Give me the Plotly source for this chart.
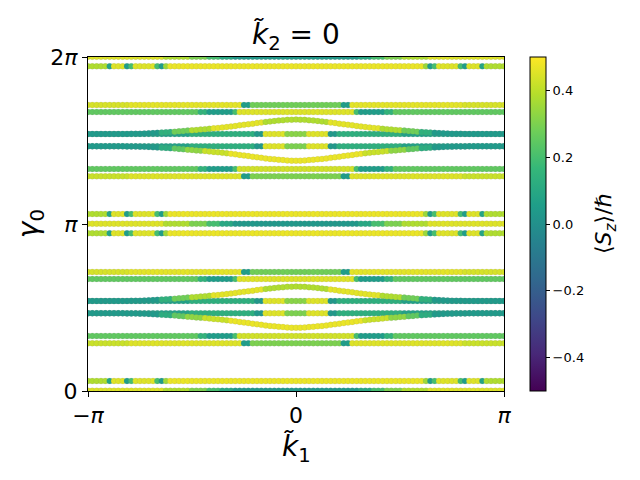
import numpy as np
import plotly.graph_objects as go

PI = np.pi

# k-grid on [0, pi] (the picture is mirror-symmetric in k)
N_K = 49
K_POS = [i * PI / (N_K - 1) for i in range(N_K)]


def runs(pairs):
    out = []
    for n, v in pairs:
        out += [v] * n
    return out


# flat band levels inside one period [0, pi) of gamma_0 (period repeats at +pi)
LEVEL_A = 0.005
LEVEL_B = 0.188
LEVEL_C = 0.897
LEVEL_D = 1.035
LEVEL_E = 1.462
LEVEL_H = 1.693
LEVEL_I = 2.107
LEVEL_J = 2.239
LEVEL_K = 2.967

# curved bands (k >= 0)
Y_F = [1.191, 1.192, 1.196, 1.202, 1.209, 1.217, 1.225, 1.234, 1.245, 1.256,
       1.267, 1.278, 1.289, 1.299, 1.310, 1.321, 1.331, 1.340, 1.348, 1.356,
       1.364, 1.371, 1.378, 1.385, 1.392, 1.398, 1.405, 1.412, 1.419, 1.424,
       1.429, 1.435, 1.440, 1.444, 1.448, 1.452, 1.455, 1.457, 1.459, 1.460,
       1.461, 1.461, 1.462, 1.462, 1.462, 1.462, 1.462, 1.462, 1.462]
Y_G = [1.964, 1.963, 1.959, 1.953, 1.946, 1.938, 1.930, 1.921, 1.910, 1.899,
       1.888, 1.877, 1.866, 1.856, 1.845, 1.834, 1.824, 1.815, 1.807, 1.799,
       1.791, 1.784, 1.777, 1.770, 1.763, 1.757, 1.750, 1.743, 1.736, 1.731,
       1.726, 1.720, 1.715, 1.711, 1.707, 1.703, 1.700, 1.698, 1.696, 1.695,
       1.694, 1.694, 1.693, 1.693, 1.693, 1.693, 1.693, 1.693, 1.693]

# <S_z>/hbar along each band (k >= 0), run-length encoded readings
SZ_A = runs([(15, 0.03), (3, 0.10), (3, 0.20), (4, 0.30), (6, 0.38), (18, 0.45)])
SZ_B = runs([(30, 0.47), (1, 0.35), (1, 0.05), (1, 0.20), (5, 0.45), (1, 0.20),
             (1, 0.05), (3, 0.45), (1, 0.08), (5, 0.38)])
SZ_C = runs([(11, 0.30), (2, 0.05), (26, 0.45), (10, 0.42)])
SZ_D = runs([(14, 0.43), (1, 0.20), (6, 0.05), (2, 0.15), (26, 0.25)])
SZ_E = runs([(3, 0.30), (5, 0.45), (2, 0.03), (15, 0.13), (24, 0.07)])
SZ_F = runs([(16, 0.47), (6, 0.42), (4, 0.33), (3, 0.25), (3, 0.12), (17, 0.04)])
SZ_G = runs([(8, 0.38), (12, 0.46), (5, 0.38), (4, 0.28), (3, 0.14), (17, 0.04)])
SZ_H = runs([(3, 0.32), (5, 0.45), (2, 0.03), (15, 0.13), (24, 0.07)])
SZ_I = runs([(14, 0.45), (1, 0.20), (6, 0.05), (2, 0.15), (26, 0.25)])
SZ_J = runs([(11, 0.28), (2, 0.05), (26, 0.46), (10, 0.44)])
SZ_K = runs([(30, 0.47), (1, 0.35), (1, 0.05), (1, 0.20), (5, 0.45), (1, 0.20),
             (1, 0.05), (3, 0.45), (1, 0.08), (5, 0.38)])

BANDS = [
    (LEVEL_A, SZ_A), (LEVEL_B, SZ_B), (LEVEL_C, SZ_C), (LEVEL_D, SZ_D),
    (LEVEL_E, SZ_E), (Y_F, SZ_F), (LEVEL_H, SZ_H), (Y_G, SZ_G),
    (LEVEL_I, SZ_I), (LEVEL_J, SZ_J), (LEVEL_K, SZ_K),
]


def mirror(vals):
    return list(reversed(vals)) + list(vals[1:])


k_full = [-k for k in reversed(K_POS)] + K_POS[1:]

xs, ys, cs = [], [], []
for period in range(3):
    shift = period * PI
    for level, sz in BANDS:
        yv = level if isinstance(level, list) else [level] * N_K
        y_full = mirror(yv)
        c_full = mirror(sz)
        for kx, gy, c in zip(k_full, y_full, c_full):
            g = gy + shift
            if -0.2 <= g <= 2 * PI + 0.2:
                xs.append(kx)
                ys.append(g)
                cs.append(c)

FONT = "DejaVu Sans"

fig = go.Figure()
fig.add_trace(go.Scatter(
    x=xs, y=ys, mode="markers",
    marker=dict(
        size=6, color=cs, colorscale="Viridis", cmin=-0.5, cmax=0.5,
        line=dict(width=0.4, color="rgba(120,120,120,0.3)"),
        showscale=True,
        colorbar=dict(
            x=1.0625, xanchor="left", xpad=0, y=0.5, yanchor="middle",
            len=1, lenmode="fraction", ypad=0, thickness=16,
            outlinecolor="black", outlinewidth=1,
            tickvals=[-0.4, -0.2, 0.0, 0.2, 0.4],
            ticktext=["\u22120.4", "\u22120.2", "0.0", "0.2", "0.4"],
            ticks="outside", ticklen=4, tickcolor="black", tickwidth=1,
            tickfont=dict(family=FONT, size=13, color="black"),
        ),
    ),
    hoverinfo="skip",
))

axis_common = dict(
    ticks="outside", ticklen=5, tickwidth=1, tickcolor="black",
    showline=True, linecolor="black", linewidth=1, mirror=True,
    showgrid=False, zeroline=False,
    tickfont=dict(family=FONT, size=22, color="black"),
)

fig.update_layout(
    width=640, height=480,
    margin=dict(l=88, r=136, t=57, b=89),
    plot_bgcolor="white", paper_bgcolor="white",
    showlegend=False,
    font=dict(family=FONT, color="black"),
    xaxis=dict(range=[-PI, PI], tickvals=[-PI, 0, PI],
               ticktext=["\u2212<i>\u03c0</i>", "0", "<i>\u03c0</i>"], **axis_common),
    yaxis=dict(range=[0, 2 * PI], tickvals=[0, PI, 2 * PI],
               ticktext=["0", "<i>\u03c0</i>", "2<i>\u03c0</i>"], **axis_common),
    annotations=[
        dict(text="<i>k\u0303</i><sub>2</sub> = 0", x=0.5, y=1.06, xref="paper", yref="paper",
             xanchor="center", yanchor="middle", showarrow=False,
             font=dict(family=FONT, size=28, color="black")),
        dict(text="<i>k\u0303</i><sub>1</sub>", x=0.5, y=-0.172, xref="paper", yref="paper",
             xanchor="center", yanchor="middle", showarrow=False,
             font=dict(family=FONT, size=28, color="black")),
        dict(text="<i>\u03b3</i><sub>0</sub>", x=-0.139, y=0.5, xref="paper", yref="paper",
             xanchor="center", yanchor="middle", showarrow=False, textangle=-90,
             font=dict(family=FONT, size=28, color="black")),
        dict(text="\u27e8<i>S<sub>z</sub></i>\u27e9/<i>\u210f</i>", x=1.243, y=0.5,
             xref="paper", yref="paper", xanchor="center", yanchor="middle",
             showarrow=False, textangle=-90,
             font=dict(family=FONT, size=22, color="black")),
    ],
)

fig.write_html("out.html")
